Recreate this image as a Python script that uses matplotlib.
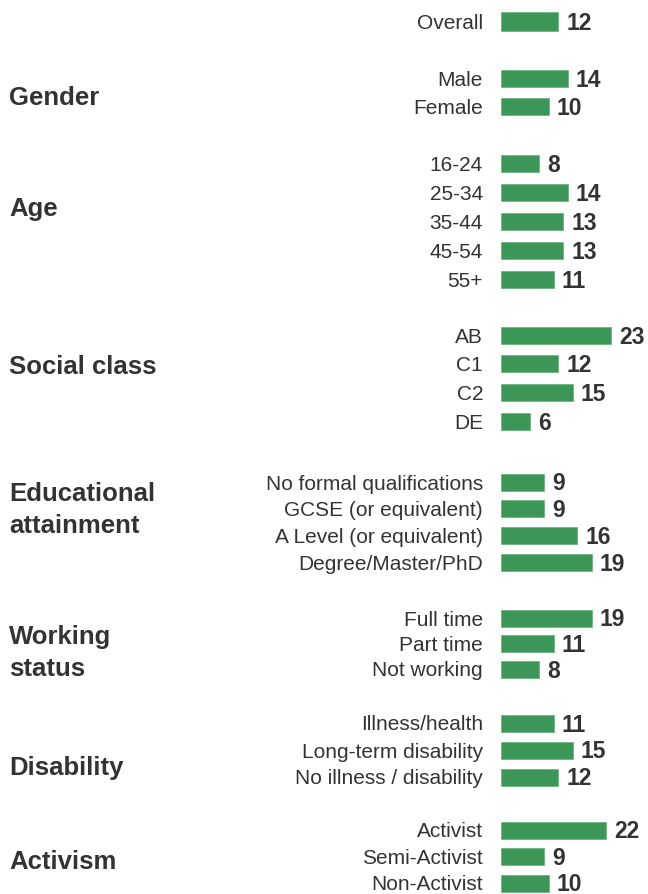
import matplotlib
matplotlib.use("Agg")
import matplotlib.pyplot as plt

plt.rcParams['font.family'] = ['Liberation Sans', 'DejaVu Sans']

# groups, row labels and percentages
group_names = ["", "Gender", "Age", "Social class", "Educational\nattainment",
               "Working\nstatus", "Disability", "Activism"]
row_labels = [
    ["Overall"],
    ["Male", "Female"],
    ["16-24", "25-34", "35-44", "45-54", "55+"],
    ["AB", "C1", "C2", "DE"],
    ["No formal qualifications", "GCSE (or equivalent)",
     "A Level (or equivalent)", "Degree/Master/PhD"],
    ["Full time", "Part time", "Not working"],
    ["Illness/health", "Long-term disability", "No illness / disability"],
    ["Activist", "Semi-Activist", "Non-Activist"],
]
row_values = [
    [12],
    [14, 10],
    [8, 14, 13, 13, 11],
    [23, 12, 15, 6],
    [9, 9, 16, 19],
    [19, 11, 8],
    [11, 15, 12],
    [22, 9, 10],
]

# layout (pixel rows from the top of the figure)
first_row = [22, 79, 164, 336, 483, 619, 724, 831]
row_step = [28, 28, 29, 28.7, 26.7, 25.5, 27, 26.5]
group_label_y = [None, 98, 209, 367, 510, 653, 768, 862]

W, H = 648, 895
fig = plt.figure(figsize=(W / 100, H / 100), dpi=100)

x0 = 501          # pixel where bars start
unit = 4.78       # pixels per percentage point
xmax = 30
ax = fig.add_axes([x0 / W, 0, xmax * unit / W, 1])
ax.set_xlim(0, xmax)
ax.set_ylim(H, 0)
ax.axis("off")

bar_color = "#3b9657"
text_color = "#333333"

lab = fig.add_axes([0, 0, 1, 1], zorder=-1)
lab.set_xlim(0, W)
lab.set_ylim(H, 0)
lab.axis("off")

for g, name in enumerate(group_names):
    ys = [first_row[g] + i * row_step[g] for i in range(len(row_values[g]))]
    h = 19 if g == 0 else 17
    ax.barh(ys, row_values[g], height=h, color=bar_color,
            edgecolor="#6fb483", linewidth=0.6)
    for y, v, t in zip(ys, row_values[g], row_labels[g]):
        ax.text(v + 8 / unit, y + 1, str(v), ha="left", va="center",
                fontsize=16.5, fontweight="bold", color=text_color)
        lab.text(483, y + 1, t, ha="right", va="center", fontsize=15,
                 color=text_color)
    if name:
        lab.text(9, group_label_y[g], name, ha="left", va="center",
                 fontsize=18.5, fontweight="bold", color=text_color,
                 linespacing=1.38)

fig.savefig("out.png", dpi=100)
